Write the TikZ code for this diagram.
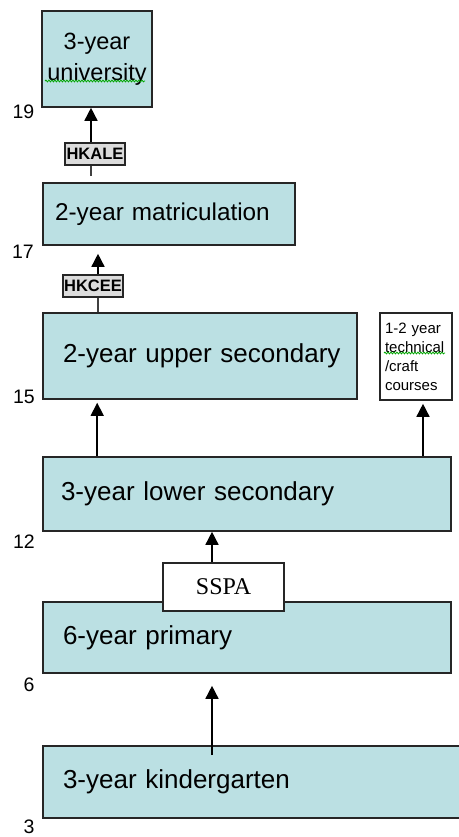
\documentclass[tikz,border=0pt]{standalone}
\usepackage{fontspec}
\setmainfont{Liberation Sans}
\newfontfamily\examserif{Liberation Serif}
\usetikzlibrary{arrows.meta, decorations.pathmorphing}
\definecolor{levelFill}{RGB}{187,224,227}
\definecolor{examFill}{RGB}{220,220,220}
\definecolor{borderGray}{RGB}{38,38,38}
\newcommand{\wideSpaces}[1]{\spaceskip=#1 plus 2pt\relax}
\tikzstyle{levelBox} = [shape=rectangle, draw=borderGray, fill=levelFill, line width=1.6pt,
	align=left, inner ysep=0pt, font=\fontsize{26}{30}\selectfont\wideSpaces{15pt}]
\tikzstyle{examBox} = [shape=rectangle, draw=borderGray, fill=examFill, line width=1.4pt,
	inner sep=0pt, minimum width=60pt, minimum height=22pt, font=\bfseries\fontsize{16.5}{18}\selectfont]
\tikzstyle{whiteBox} = [shape=rectangle, draw=borderGray, fill=white, line width=1.6pt, inner sep=0pt]
\tikzstyle{ageLabel} = [inner sep=0pt, font=\fontsize{19.5}{22}\selectfont]
\tikzstyle{normalArrow} = [line width=1.5pt, -{Triangle[width=13pt, length=13pt]}]
\tikzstyle{plainLine} = [line width=1.5pt, draw=black!75]
\tikzstyle{spellMark} = [green!65!black, line width=0.8pt,
	decorate, decoration={snake, amplitude=0.9pt, segment length=3pt}]

\begin{document}
\begin{tikzpicture}[x=1pt, y=-1pt]
  \useasboundingbox (0,0) rectangle (458,837);

  \node (UNIV) [levelBox, align=center, text width=100pt, inner xsep=5pt, minimum height=96pt,
    font=\fontsize{23.5}{31}\selectfont] at (97,59) {\raisebox{3pt}{3-year}\\\raisebox{3pt}{university}};
  \node (MATRIC) [levelBox, text width=228pt, inner xsep=12pt, minimum height=62pt,
    font=\fontsize{24.3}{30}\selectfont] at (169,214) {2-year matriculation};
  \node (UPSEC) [levelBox, text width=274pt, inner xsep=20pt, minimum height=86pt] at (200,356)
    {\mbox{2-year upper secondary}};
  \node (TECH) [whiteBox, align=left, text width=62pt, inner xsep=5pt, minimum height=87pt,
    font=\fontsize{15}{19}\selectfont] at (416,356.5) {1-2 year\\technical\\/craft\\courses};
  \node (LOWSEC) [levelBox, text width=372pt, inner xsep=18pt, minimum height=74pt] at (247,494)
    {3-year lower secondary};
  \node (PRIM) [levelBox, text width=368pt, inner xsep=20pt, minimum height=71pt] at (247,637.5)
    {6-year primary};
  \node (KINDER) [levelBox, text width=379pt, inner xsep=20pt, minimum height=72pt,
    font=\fontsize{26}{30}\selectfont\wideSpaces{13pt}] at (252.5,782) {3-year kindergarten};

  \node (SSPA) [whiteBox, minimum width=121pt, minimum height=48pt,
    font=\examserif\fontsize{24}{28}\selectfont] at (223.5,587) {SSPA};
  \node (HKALE) [examBox] at (95,154) {HKALE};
  \node (HKCEE) [examBox] at (93,286) {HKCEE};

  % ages
  \node (AGE19) [ageLabel] at (23.5,112) {19};
  \node (AGE17) [ageLabel] at (23,252) {17};
  \node (AGE15) [ageLabel] at (24,397) {15};
  \node (AGE12) [ageLabel] at (24,542) {12};
  \node (AGE6) [ageLabel] at (29,685) {6};
  \node (AGE3) [ageLabel] at (29,827) {3};

  \draw [normalArrow, shorten <=-10pt, shorten >=12pt] ([xshift=-11.5pt]SSPA.north |- KINDER.north)
    -- ([xshift=-11.5pt]SSPA.north |- PRIM.south);
  \draw [normalArrow] ([xshift=-11.5pt]SSPA.north) -- ([xshift=-11.5pt]SSPA.north |- LOWSEC.south);
  \draw [normalArrow, shorten >=3pt] ([xshift=55pt]LOWSEC.north west)
    -- ([xshift=55pt]LOWSEC.north west |- UPSEC.south);
  \draw [normalArrow, shorten >=3pt] ([xshift=7pt]TECH.south |- LOWSEC.north) -- ([xshift=7pt]TECH.south);
  \draw [plainLine] ([xshift=5pt]HKCEE.south |- UPSEC.north) -- ([xshift=5pt]HKCEE.south);
  \draw [normalArrow, shorten >=8pt] ([xshift=5pt]HKCEE.north) -- ([xshift=5pt]HKCEE.north |- MATRIC.south);
  \draw [plainLine, shorten <=6pt] ([xshift=-4pt]HKALE.south |- MATRIC.north) -- ([xshift=-4pt]HKALE.south);
  \draw [normalArrow] ([xshift=-4pt]HKALE.north) -- ([xshift=-4pt]HKALE.north |- UNIV.south);

  % spell check marks
  \draw [spellMark] (45,81) -- (145,81);
  \draw [spellMark] (384,353) -- (445,353);

\end{tikzpicture}
\end{document}
